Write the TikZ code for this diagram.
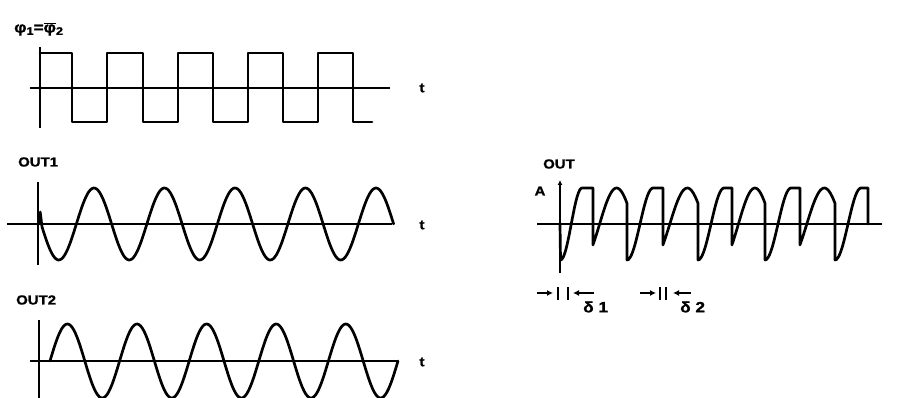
\documentclass[tikz,border=0pt]{standalone}
\usepackage{fontspec}
\newfontfamily\labfont{Liberation Sans}[FakeStretch=1.15, FakeBold=1.2]
\usetikzlibrary{arrows.meta}
\tikzset{
  wave/.style={line width=2.7pt, line join=round, line cap=round},
  axisline/.style={line width=2pt},
  lab/.style={font=\labfont\bfseries\fontsize{13}{14}\selectfont, inner sep=0pt},
  dlab/.style={font=\labfont\bfseries\fontsize{15}{16}\selectfont, inner sep=0pt},
  dimarrow/.style={line width=2pt, -{Latex[length=6pt,width=6pt]}},
  tickbar/.style={line width=1.8pt}
}
\begin{document}
\begin{tikzpicture}[x=1pt,y=-1pt]
\useasboundingbox (0,0) rectangle (899,398);
% ---------- phi1 = phi2bar square wave ----------
\node[lab, anchor=west, font=\labfont\bfseries\fontsize{15}{16}\selectfont] (phil) at (14,29)
  {φ\raisebox{-0.3ex}{\fontsize{11}{12}\selectfont 1}=$\overline{\hbox{φ}}$\raisebox{-0.3ex}{\fontsize{11}{12}\selectfont 2}};
\draw[axisline] (40,47) -- (40,128);
\draw[axisline] (30,88) -- (390,88);
\draw[wave] (40,53) -- (72,53) -- (72,122) -- (107,122) -- (107,53) -- (143,53) -- (143,122)
  -- (178,122) -- (178,53) -- (213,53) -- (213,122) -- (248,122) -- (248,53) -- (283,53)
  -- (283,122) -- (318,122) -- (318,53) -- (353,53) -- (353,122) -- (372,122);
\node[lab] (t1) at (422,88) {t};
% ---------- OUT1 ----------
\node[lab, anchor=west] (out1l) at (18,162) {OUT1};
\draw[axisline] (38,182) -- (38,265);
\draw[axisline] (7,224) -- (392,224);
\draw[wave] (39,224) -- (40.2,212) -- (42,226.8)
  -- plot[domain=42:393.6, samples=220, smooth] (\x,{224-36*cos(5.1064*(\x-94))});
\node[lab] (t2) at (422,225) {t};
% ---------- OUT2 ----------
\node[lab, anchor=west] (out2l) at (16,300) {OUT2};
\draw[axisline] (39,320) -- (39,398);
\draw[axisline] (30,361) -- (398,361);
\draw[wave] plot[domain=50:398, samples=220, smooth] (\x,{361-37*sin(5.1724*(\x-50))});
\node[lab] (t3) at (422,362) {t};
% ---------- OUT ----------
\node[lab, anchor=west] (outl) at (543,164) {OUT};
\node[lab] (al) at (540,191) {A};
\draw[axisline, -{Latex[length=5pt,width=5pt]}] (560,273) -- (560,180);
\draw[axisline] (537,224) -- (882,224);
\draw[wave] (560,224) -- (560.5,260)
  -- plot[domain=560.5:582, samples=20, smooth] (\x,{224-36*sin(-90+180*(\x-560.5)/21.5)}) -- (593,188)
  -- (593,245)
  -- plot[domain=593:627, samples=25, smooth] (\x,{224-36*sin(-35+180*(\x-593)/34)})
  -- (627,260)
  -- plot[domain=627:653, samples=20, smooth] (\x,{224-36*sin(-90+180*(\x-627)/26)}) -- (663,188)
  -- (663,245)
  -- plot[domain=663:698, samples=25, smooth] (\x,{224-36*sin(-35+180*(\x-663)/35)})
  -- (698,260)
  -- plot[domain=698:724, samples=20, smooth] (\x,{224-36*sin(-90+180*(\x-698)/26)}) -- (732,188)
  -- (732,245)
  -- plot[domain=732:765, samples=25, smooth] (\x,{224-36*sin(-35+180*(\x-732)/33)})
  -- (765,260)
  -- plot[domain=765:791, samples=20, smooth] (\x,{224-36*sin(-90+180*(\x-765)/26)}) -- (800,188)
  -- (800,245)
  -- plot[domain=800:835, samples=25, smooth] (\x,{224-36*sin(-35+180*(\x-800)/35)})
  -- (835,260)
  -- plot[domain=835:861, samples=20, smooth] (\x,{224-36*sin(-90+180*(\x-835)/26)}) -- (868,188)
  -- (868,224);
% ---------- delta markers ----------
\coordinate (a1s) at (537,293); \coordinate (a1e) at (553,293);
\coordinate (a2s) at (594,293); \coordinate (a2e) at (573,293);
\draw[dimarrow] (a1s) -- (a1e);
\draw[tickbar] (558,287) -- (558,300);
\draw[tickbar] (568,287) -- (568,300);
\draw[dimarrow] (a2s) -- (a2e);
\node[dlab, anchor=west] (d1) at (583,307) {δ 1};
\coordinate (b1s) at (640,293); \coordinate (b1e) at (656,293);
\coordinate (b2s) at (691,293); \coordinate (b2e) at (673,293);
\draw[dimarrow] (b1s) -- (b1e);
\draw[tickbar] (660,287) -- (660,300);
\draw[tickbar] (666,287) -- (666,300);
\draw[dimarrow] (b2s) -- (b2e);
\node[dlab, anchor=west] (d2) at (680,307) {δ 2};
\end{tikzpicture}
\end{document}
